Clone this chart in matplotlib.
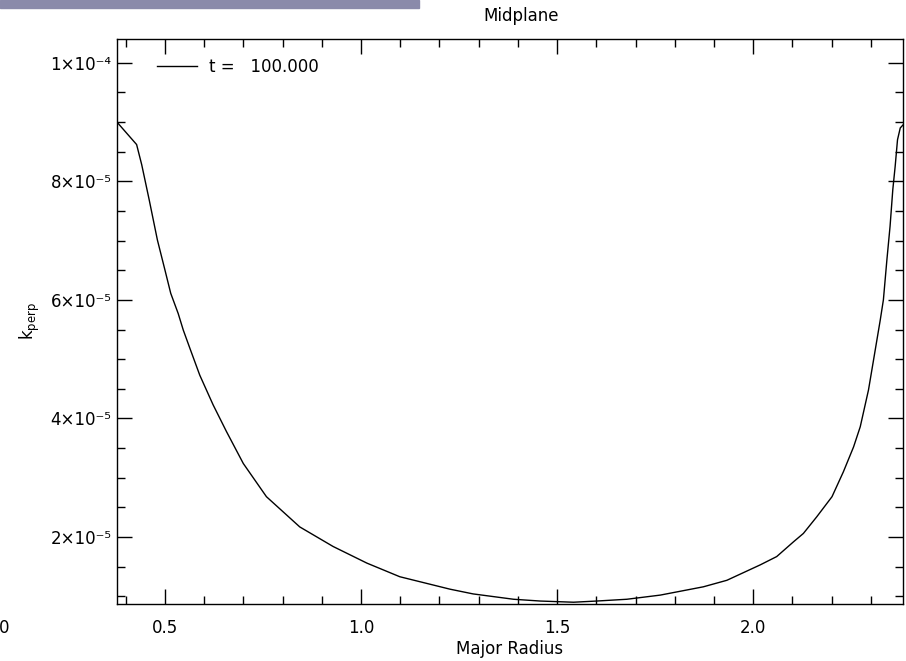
import numpy as np
import matplotlib
matplotlib.use('Agg')
from matplotlib import pyplot as plt
from matplotlib.ticker import MultipleLocator, FuncFormatter
from matplotlib.patches import Rectangle

# Midplane k_perp profile (y in units of 1e-5)
radius = [0.379, 0.428, 0.441, 0.460, 0.481, 0.500, 0.515, 0.534, 0.547, 0.564,
          0.589, 0.623, 0.657, 0.700, 0.759, 0.844, 0.929, 1.015, 1.099, 1.227,
          1.286, 1.389, 1.457, 1.542, 1.601, 1.678, 1.763, 1.873, 1.933, 2.018,
          2.060, 2.103, 2.128, 2.162, 2.201, 2.230, 2.256, 2.273, 2.294, 2.307,
          2.324, 2.332, 2.341, 2.349, 2.356, 2.362, 2.368, 2.375, 2.382]
kperp = [8.99, 8.62, 8.28, 7.69, 7.01, 6.51, 6.11, 5.77, 5.49, 5.18,
         4.73, 4.23, 3.78, 3.24, 2.68, 2.17, 1.84, 1.56, 1.33, 1.12,
         1.04, 0.95, 0.92, 0.90, 0.92, 0.95, 1.02, 1.16, 1.27, 1.53,
         1.67, 1.92, 2.06, 2.34, 2.68, 3.10, 3.52, 3.86, 4.48, 4.99,
         5.66, 6.00, 6.68, 7.24, 7.86, 8.25, 8.70, 8.90, 8.95]
kperp = np.array(kperp) * 1e-5
legend_label = 't =   100.000'

plt.rcParams['font.family'] = 'DejaVu Sans'

SUP = str.maketrans('-0123456789', '⁻⁰¹²³⁴⁵⁶⁷⁸⁹')

fig = plt.figure(figsize=(9.06, 6.61), dpi=100)
ax = fig.add_axes([117/906, 57/661, 786/906, 565/661])

ax.plot(radius, kperp, color='black', lw=1.0, label=legend_label)
ax.set_xlim(0.378, 2.382)
ax.set_ylim(0.87e-5, 1.04e-4)

def sci(v, pos):
    if v <= 0:
        return '0'
    e = int(np.floor(np.log10(v) + 1e-9))
    m = int(round(v / 10**e))
    return '%d×10%s' % (m, str(e).translate(SUP))

ax.xaxis.set_major_locator(MultipleLocator(0.5))
ax.xaxis.set_minor_locator(MultipleLocator(0.1))
ax.xaxis.set_major_formatter(FuncFormatter(lambda v, p: '%.1f' % v))
ax.yaxis.set_major_locator(MultipleLocator(2e-5))
ax.yaxis.set_minor_locator(MultipleLocator(0.5e-5))
ax.yaxis.set_major_formatter(FuncFormatter(sci))

ax.tick_params(which='both', direction='in', top=True, right=True,
               labelsize=12, width=1)
ax.tick_params(which='major', length=11)
ax.tick_params(which='minor', length=6)
ax.tick_params(axis='x', pad=11)
ax.tick_params(axis='y', pad=4)
for s in ax.spines.values():
    s.set_linewidth(1)

ax.set_xlabel('Major Radius', fontsize=12, labelpad=2)
ax.set_ylabel(r'$\mathregular{k_{perp}}$', fontsize=12, labelpad=6)
ax.set_title('Midplane', fontsize=12, pad=13, x=0.514)

ax.legend(loc='center left', bbox_to_anchor=(0.051, 0.950), frameon=False,
          fontsize=12, handlelength=2.4, handletextpad=0.7,
          borderpad=0, borderaxespad=0)

# screenshot leftovers: bar at the top, a clipped label at the bottom left
fig.patches.append(Rectangle((0, 1 - 8/661), 419/906, 8/661,
                             transform=fig.transFigure, color='#8a8aaa'))
fig.text(9/906, 1 - 628/661, '0', ha='right', va='center', fontsize=12)

plt.savefig('out.png', dpi=100)
